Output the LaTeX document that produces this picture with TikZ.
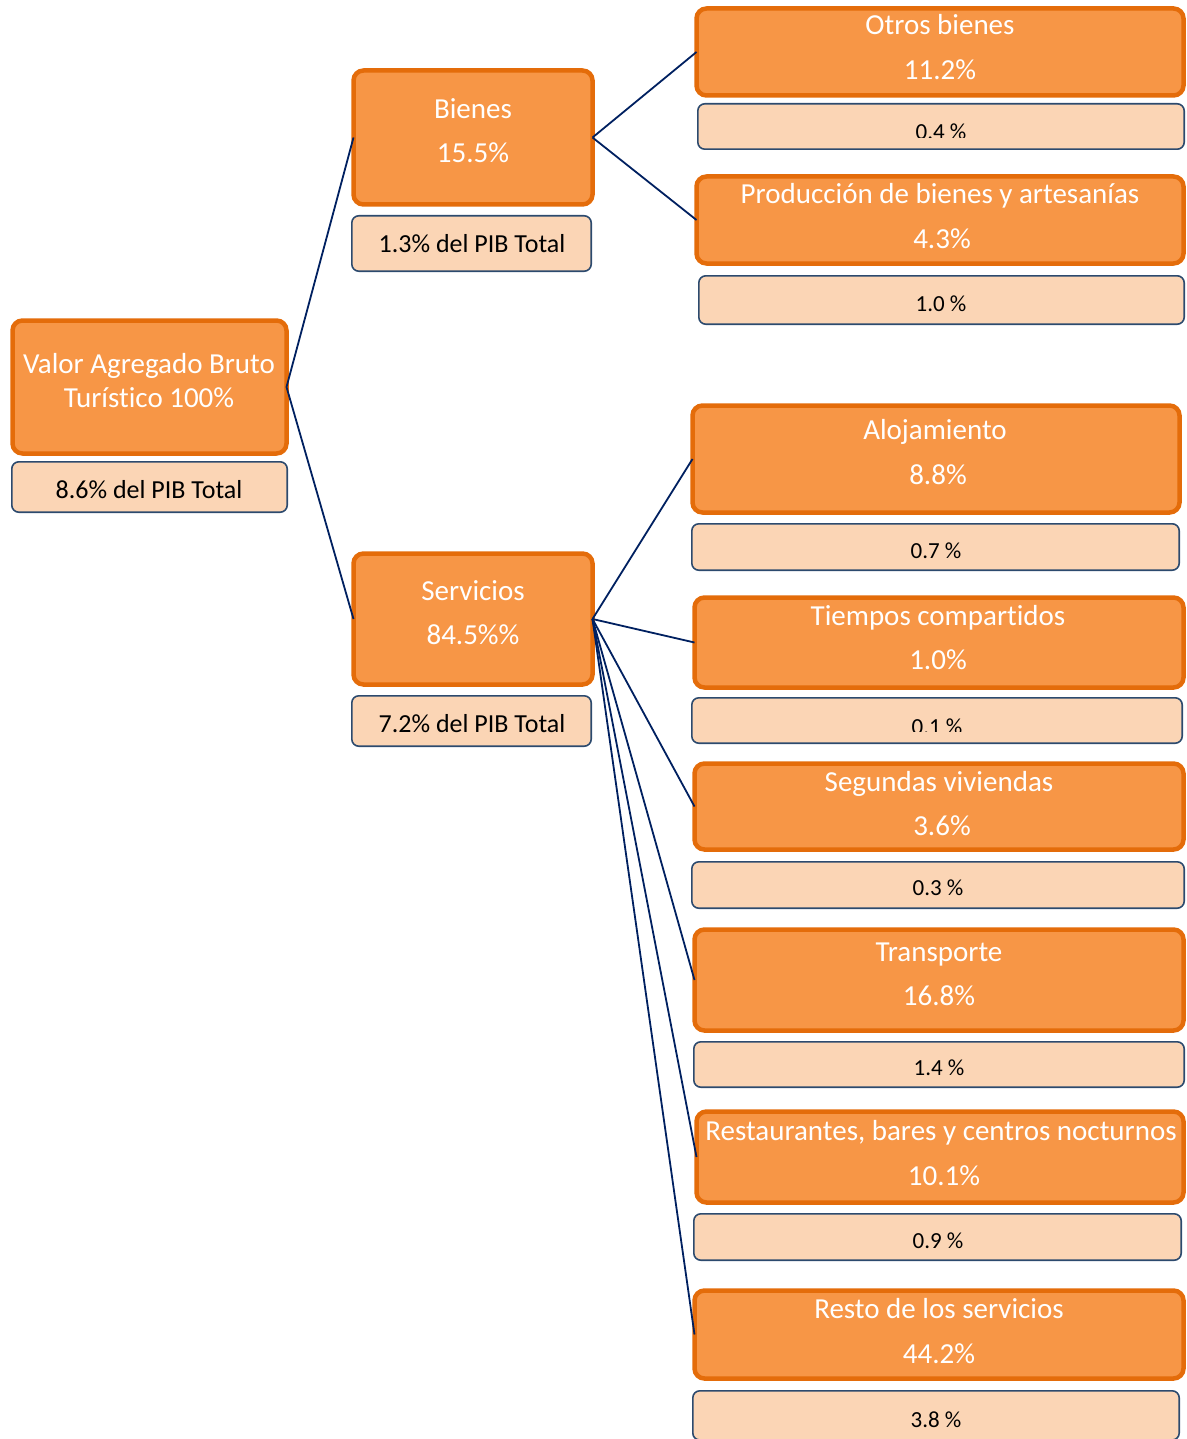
\documentclass[tikz,border=0pt]{standalone}
\usepackage{fontspec}
\setmainfont{Carlito}[Ligatures={NoCommon}]
\definecolor{ofill}{HTML}{F79646}
\definecolor{oline}{HTML}{E46C0A}
\definecolor{sfill}{HTML}{FBD5B5}
\definecolor{sline}{HTML}{2C4A6E}
\definecolor{conn}{HTML}{002060}
\tikzset{
  obox/.style={draw=oline, fill=ofill, line width=4.5pt, rounded corners=10pt, inner sep=0pt, outer sep=0pt},
  sbox/.style={draw=sline, fill=sfill, line width=1.6pt, rounded corners=7pt, inner sep=0pt, outer sep=0pt},
  wt/.style={text=white, inner sep=0pt, anchor=base, font=\fontsize{29}{34}\selectfont},
  bt/.style={text=black, inner sep=0pt, anchor=base, font=\fontsize{26}{30}\selectfont},
  st/.style={text=black, inner sep=0pt, anchor=base, font=\fontsize{23}{27}\selectfont},
  cline/.style={draw=conn, line width=1.8pt},
}
\newcommand\mkbox[6]{%
  \pgfmathsetmacro\bw{#5-#3}\pgfmathsetmacro\bh{#6-#4}%
  \pgfmathsetmacro\bx{(#3+#5)/2}\pgfmathsetmacro\by{(#4+#6)/2}%
  \node[#1, minimum width=\bw pt, minimum height=\bh pt] (#2) at (\bx,\by) {};}
\begin{document}
\begin{tikzpicture}[x=1pt,y=-1pt]
\useasboundingbox (0,0) rectangle (1186,1439);
% root
\mkbox{obox}{root}{12.5}{320.5}{286.5}{453.5}
\mkbox{sbox}{roots}{11.8}{461.8}{287.2}{512.2}
\node[wt] (root-t1) at (149,373.5) {Valor Agregado Bruto};
\node[wt] (root-t2) at (149,407) {Turístico 100\%};
\node[bt] (roots-t) at (149,498.5) {8.6\% del PIB Total};
% Bienes
\mkbox{obox}{bienes}{353.5}{70.5}{592.5}{204.5}
\mkbox{sbox}{bieness}{351.8}{215.8}{591.2}{271.2}
\node[wt] (bienes-t1) at (473,119) {Bienes};
\node[wt] (bienes-t2) at (473,163) {15.5\%};
\node[bt] (bieness-t) at (472,253) {1.3\% del PIB Total};
% Servicios
\mkbox{obox}{serv}{353.5}{553.5}{592.5}{684.5}
\mkbox{sbox}{servs}{351.8}{695.8}{591.2}{746.2}
\node[wt] (serv-t1) at (473,600.5) {Servicios};
\node[wt] (serv-t2) at (473,644.5) {84.5\%\%};
\node[bt] (servs-t) at (472,732.5) {7.2\% del PIB Total};
% Otros bienes
\mkbox{obox}{otros}{696.5}{8.5}{1183.5}{95.5}
\mkbox{sbox}{otross}{697.8}{103.8}{1184.2}{149.2}
\node[wt] (otros-t1) at (940,35) {Otros bienes};
\node[wt] (otros-t2) at (940,80) {11.2\%};
\begin{scope}
\clip (700,105) rectangle (1180,137.5);
\node[st] (otross-t) at (941,140) {0.4 \%};
\end{scope}
% Produccion
\mkbox{obox}{prod}{696.5}{176.5}{1183.5}{263.5}
\mkbox{sbox}{prods}{698.8}{275.8}{1184.2}{324.2}
\node[wt] (prod-t1) at (940,203.5) {Producción de bienes y artesanías};
\node[wt] (prod-t2) at (942,248) {4.3\%};
\node[st] (prods-t) at (941,311) {1.0 \%};
% Alojamiento
\mkbox{obox}{aloj}{692.5}{405.5}{1179.5}{512.5}
\mkbox{sbox}{alojs}{691.8}{523.8}{1179.2}{570.2}
\node[wt] (aloj-t1) at (935,439.5) {Alojamiento};
\node[wt] (aloj-t2) at (938,484) {8.8\%};
\node[st] (alojs-t) at (936,558) {0.7 \%};
% Tiempos
\mkbox{obox}{tiem}{694.5}{597.5}{1183.5}{687.5}
\mkbox{sbox}{tiems}{691.8}{697.8}{1182.2}{743.2}
\node[wt] (tiem-t1) at (938,625.5) {Tiempos compartidos};
\node[wt] (tiem-t2) at (938,669.5) {1.0\%};
\begin{scope}
\clip (695,699) rectangle (1180,731.5);
\node[st] (tiems-t) at (937,734) {0.1 \%};
\end{scope}
% Segundas
\mkbox{obox}{seg}{694.5}{763.5}{1183.5}{849.5}
\mkbox{sbox}{segs}{691.8}{861.8}{1184.2}{908.2}
\node[wt] (seg-t1) at (939,791.5) {Segundas viviendas};
\node[wt] (seg-t2) at (942,835.5) {3.6\%};
\node[st] (segs-t) at (938,895) {0.3 \%};
% Transporte
\mkbox{obox}{trans}{694.5}{929.5}{1183.5}{1030.5}
\mkbox{sbox}{transs}{693.8}{1041.8}{1184.2}{1087.2}
\node[wt] (trans-t1) at (939,961.5) {Transporte};
\node[wt] (trans-t2) at (939,1005.5) {16.8\%};
\node[st] (transs-t) at (939,1075) {1.4 \%};
% Restaurantes
\mkbox{obox}{rest}{696.5}{1111.5}{1183.5}{1202.5}
\mkbox{sbox}{rests}{693.8}{1213.8}{1181.2}{1260.2}
\node[wt] (rest-t1) at (941,1140.5) {Restaurantes, bares y centros nocturnos};
\node[wt] (rest-t2) at (944,1185.5) {10.1\%};
\node[st] (rests-t) at (938,1248) {0.9 \%};
% Resto
\mkbox{obox}{resto}{694.5}{1290.5}{1183.5}{1378.5}
\mkbox{sbox}{restos}{692.8}{1390.8}{1179.2}{1440}
\node[wt] (resto-t1) at (939,1318) {Resto de los servicios};
\node[wt] (resto-t2) at (939,1363) {44.2\%};
\node[st] (restos-t) at (936,1427) {3.8 \%};
% connectors
\draw[cline] (root.east) -- (bienes.west);
\draw[cline] (root.east) -- (serv.west);
\draw[cline] (bienes.east) -- (otros.west);
\draw[cline] (bienes.east) -- (prod.west);
\draw[cline] (serv.east) -- (aloj.west);
\draw[cline] (serv.east) -- (tiem.west);
\draw[cline] (serv.east) -- (seg.west);
\draw[cline] (serv.east) -- (trans.west);
\draw[cline] (serv.east) -- (rest.west);
\draw[cline] (serv.east) -- (resto.west);
\end{tikzpicture}
\end{document}
